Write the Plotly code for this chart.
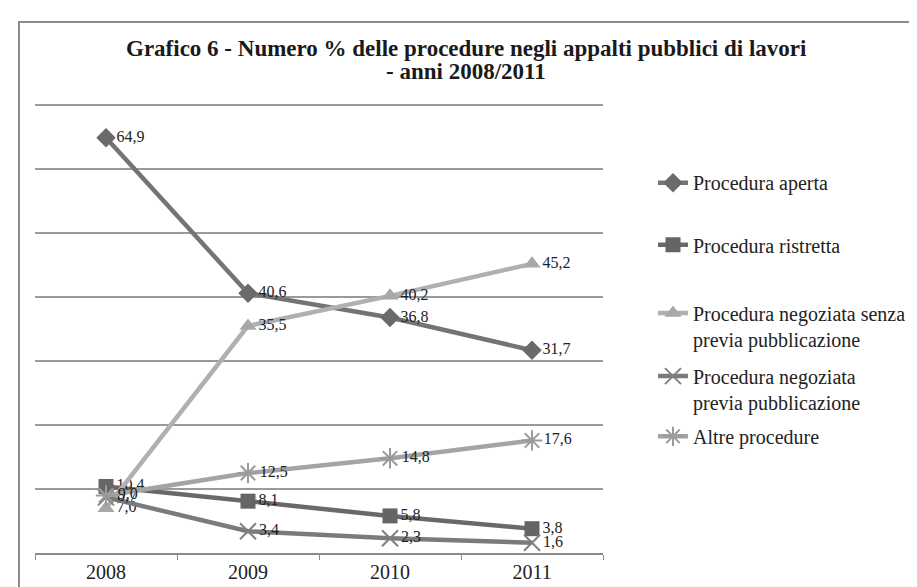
import plotly.graph_objects as go

anni = ["2008", "2009", "2010", "2011"]

aperta = [64.9, 40.6, 36.8, 31.7]
ristretta = [10.4, 8.1, 5.8, 3.8]
negoziata_senza = [7.0, 35.5, 40.2, 45.2]
negoziata_previa = [8.7, 3.4, 2.3, 1.6]
altre = [9.0, 12.5, 14.8, 17.6]

nomi = [
    "Procedura aperta",
    "Procedura ristretta",
    "Procedura negoziata senza<br>previa pubblicazione",
    "Procedura negoziata<br>previa pubblicazione",
    "Altre procedure",
]

titolo = [
    "Grafico 6 - Numero % delle procedure negli appalti pubblici di lavori",
    "- anni 2008/2011",
]

W, H = 917, 587
L, R, T, B = 27, 322, 94, 36
pw, ph = W - L - R, H - T - B


def px_x(x):
    return (x - L) / pw


def px_y(y):
    return (H - B - y) / ph


def etichette(vals):
    return [f"{v:.1f}".replace(".", ",") for v in vals]


serif = "Liberation Serif"

stili = [
    # line colour, marker symbol, marker colour, marker size
    ("#747474", "diamond", "#6a6a6a", 15),
    ("#696969", "square", "#656565", 15),
    ("#b0b0b0", "triangle-up", "#a8a8a8", 15),
    ("#7b7b7b", "x-thin", "#808080", 16),
    ("#a4a4a4", "asterisk", "#9a9a9a", 17),
]

serie = [aperta, ristretta, negoziata_senza, negoziata_previa, altre]
legend_y = [170, 233, 302, 366, 427]

fig = go.Figure()
for i, (vals, nome, st) in enumerate(zip(serie, nomi, stili)):
    lc, sym, mc, ms = st
    thin = sym in ("x-thin", "asterisk")
    marker = dict(symbol=sym, size=ms, color=mc)
    if thin:
        marker["line"] = dict(color=mc, width=2)
    else:
        marker["line"] = dict(width=0)
    fig.add_trace(go.Scatter(
        x=anni, y=vals, name=nome, mode="lines+markers+text",
        line=dict(color=lc, width=4.5),
        marker=marker,
        text=etichette(vals), textposition="middle right",
        textfont=dict(family=serif, size=16, color="#222222"),
        legend="legend" if i == 0 else f"legend{i + 1}",
        cliponaxis=False,
    ))

legend_common = dict(
    font=dict(family=serif, size=20, color="#222222"),
    bgcolor="rgba(0,0,0,0)",
    xanchor="left", yanchor="top",
    valign="top",
    itemwidth=30,
)
for i, ly in enumerate(legend_y):
    key = "legend" if i == 0 else f"legend{i + 1}"
    fig.update_layout({key: dict(legend_common, x=px_x(645), y=px_y(ly - 14))})

annotations = [
    dict(text=f"<b>{riga}</b>", x=px_x(458), y=px_y(yy), xref="paper", yref="paper",
         xanchor="center", yanchor="middle", showarrow=False,
         font=dict(family=serif, size=23, color="#1a1a1a"))
    for riga, yy in zip(titolo, [40, 63])
]

fig.update_layout(
    width=W, height=H,
    margin=dict(l=L, r=R, t=T, b=B),
    paper_bgcolor="white", plot_bgcolor="white",
    showlegend=True,
    annotations=annotations,
    xaxis=dict(
        type="category", range=[-0.5, 3.5], showgrid=False,
        showline=True, linecolor="#8a8a8a", linewidth=1.5,
        ticks="outside", tickson="boundaries", ticklen=5, tickcolor="#8a8a8a",
        tickfont=dict(family=serif, size=20, color="#222222"),
        zeroline=False,
    ),
    yaxis=dict(
        range=[0, 70.5], tickvals=[10, 20, 30, 40, 50, 60, 70], showticklabels=False,
        showgrid=True, gridcolor="#9a9a9a", gridwidth=1.5,
        zeroline=False, showline=False,
    ),
    shapes=[dict(
        type="rect", xref="paper", yref="paper",
        x0=px_x(11), x1=px_x(W + 20), y0=px_y(H + 20), y1=px_y(13),
        line=dict(color="#8c8c8c", width=2), fillcolor="rgba(0,0,0,0)",
        layer="below",
    )],
)

fig.write_html("out.html")
